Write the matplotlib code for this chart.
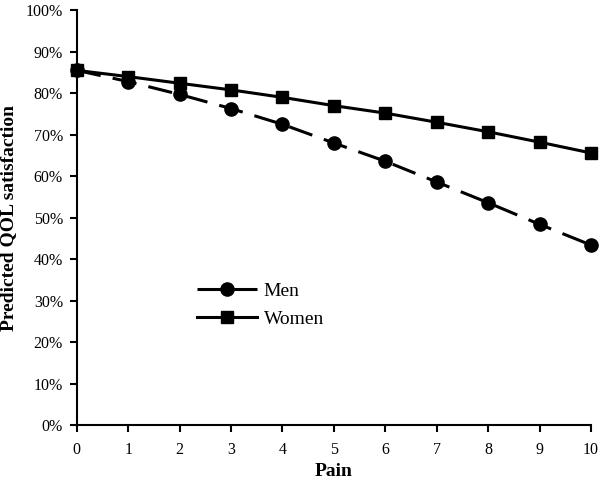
import matplotlib.pyplot as plt
from matplotlib.ticker import PercentFormatter

plt.rcParams['font.family'] = ['Liberation Serif', 'DejaVu Serif']

pain = [0, 1, 2, 3, 4, 5, 6, 7, 8, 9, 10]
men = [85.5, 82.8, 79.7, 76.3, 72.5, 68.0, 63.6, 58.6, 53.6, 48.4, 43.4]
women = [85.5, 84.0, 82.4, 80.8, 79.0, 77.0, 75.2, 73.0, 70.7, 68.2, 65.6]

fig = plt.figure(figsize=(6, 4.87), dpi=100)
ax = fig.add_axes([0.128, 0.127, 0.857, 0.852])

ax.plot(pain, men, color='black', linestyle=(0, (8, 4)), linewidth=2.2,
        marker='o', markersize=9.5, label='Men', clip_on=False)
ax.plot(pain, women, color='black', linestyle='-', linewidth=2.2,
        marker='s', markersize=8, label='Women', clip_on=False)

ax.set_xlim(0, 10)
ax.set_ylim(0, 100)
ax.set_xticks(range(0, 11))
ax.set_yticks(range(0, 101, 10))
ax.yaxis.set_major_formatter(PercentFormatter(decimals=0))
ax.spines['top'].set_visible(False)
ax.spines['right'].set_visible(False)
ax.spines['left'].set_linewidth(1.5)
ax.spines['bottom'].set_linewidth(1.5)
ax.tick_params(direction='out', length=5, width=1.5, labelsize=11.5)
ax.tick_params(axis='x', pad=7)
ax.tick_params(axis='y', pad=5)

ax.set_xlabel('Pain', fontsize=14, fontweight='bold', labelpad=4)
ax.set_ylabel('Predicted QOL satisfaction', fontsize=14, fontweight='bold', labelpad=6)

ax.legend(loc='center left', bbox_to_anchor=(0.233, 0.289), frameon=False,
          borderpad=0, borderaxespad=0, fontsize=14, handlelength=3.1,
          handletextpad=0.35, labelspacing=0.55)

fig.savefig('out.png', dpi=100)
